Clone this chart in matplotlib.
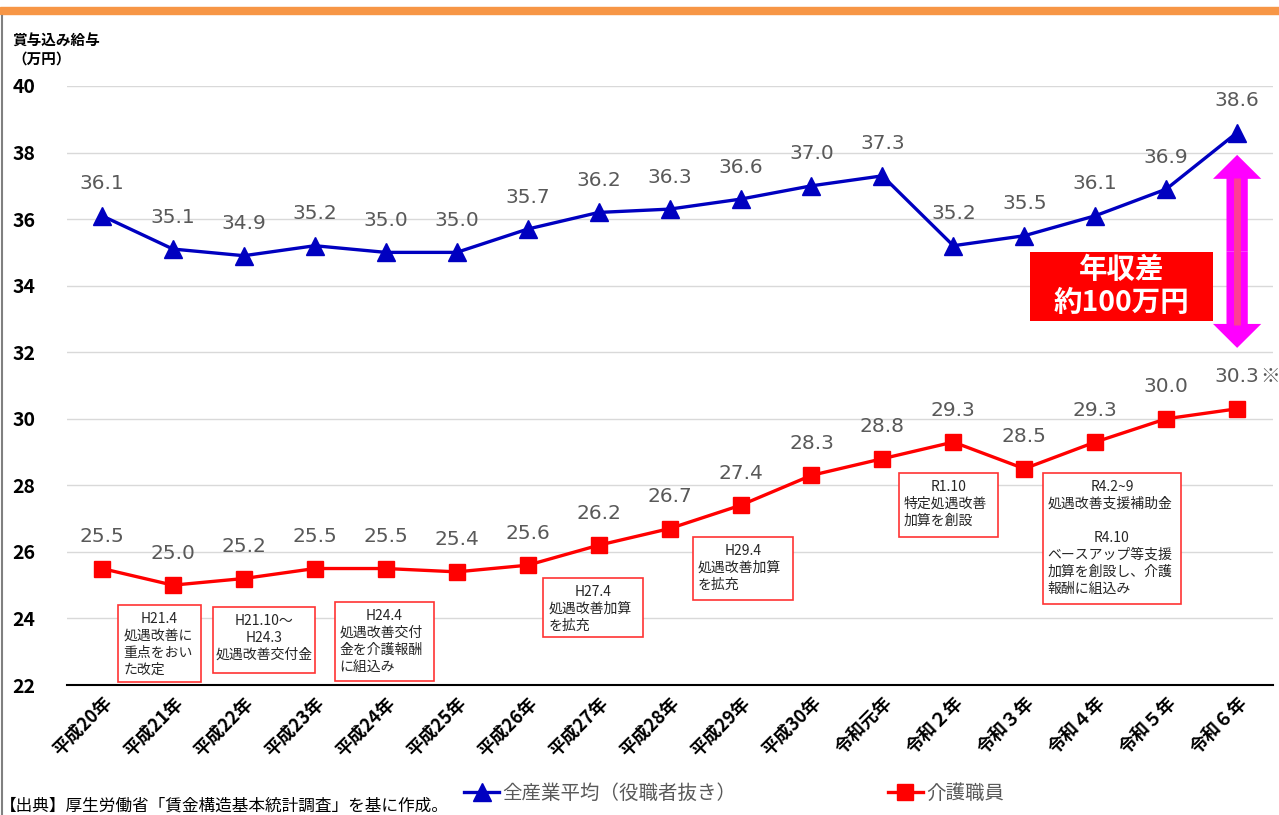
from matplotlib import pyplot as plt
import matplotlib.patches as mpatches
import numpy as np

plt.rcParams['font.family'] = ['Noto Sans CJK JP', 'DejaVu Sans']

## Données (万円)
years = ['平成20年', '平成21年', '平成22年', '平成23年', '平成24年', '平成25年',
         '平成26年', '平成27年', '平成28年', '平成29年', '平成30年', '令和元年',
         '令和２年', '令和３年', '令和４年', '令和５年', '令和６年']
all_industry = [36.1, 35.1, 34.9, 35.2, 35.0, 35.0, 35.7, 36.2, 36.3, 36.6,
                37.0, 37.3, 35.2, 35.5, 36.1, 36.9, 38.6]
care_workers = [25.5, 25.0, 25.2, 25.5, 25.5, 25.4, 25.6, 26.2, 26.7, 27.4,
                28.3, 28.8, 29.3, 28.5, 29.3, 30.0, 30.3]
all_name = '全産業平均（役職者抜き）'
care_name = '介護職員'

# encadrés (x0, x1, y_haut, y_bas) et lignes de texte
notes = [
    ((0.23, 1.39, 24.40, 22.09), ['H21.4', '処遇改善に', '重点をおい', 'た改定']),
    ((1.56, 3.00, 24.34, 22.36), ['H21.10～', 'H24.3', '処遇改善交付金']),
    ((3.28, 4.68, 24.50, 22.12), ['H24.4', '処遇改善交付', '金を介護報酬', 'に組込み']),
    ((6.22, 7.63, 25.22, 23.44), ['H27.4', '処遇改善加算', 'を拡充']),
    ((8.33, 9.74, 26.45, 24.56), ['H29.4', '処遇改善加算', 'を拡充']),
    ((11.23, 12.63, 28.37, 26.45), ['R1.10', '特定処遇改善', '加算を創設']),
    ((13.26, 15.21, 28.37, 24.43), ['R4.2~9', '処遇改善支援補助金', '', 'R4.10',
                                    'ベースアップ等支援', '加算を創設し、介護', '報酬に組込み']),
]

blue = '#0000C0'
red = '#FF0000'
gray = '#595959'

fig = plt.figure(figsize=(12.79, 8.15), dpi=100)
ax = fig.add_axes([0.052, 0.1595, 0.943, 0.735])

x = np.arange(len(years))
ax.plot(x, all_industry, color=blue, lw=2.4, marker='^', markersize=13, label=all_name, zorder=4)
ax.plot(x, care_workers, color=red, lw=2.4, marker='s', markersize=11.5, label=care_name, zorder=4)

for i in range(len(years)):
    ax.annotate('{:.1f}'.format(all_industry[i]), (x[i], all_industry[i]), xytext=(0, 23),
                textcoords='offset points', ha='center', va='center', fontsize=14.5,
                color=gray, family='DejaVu Sans')
    ax.annotate('{:.1f}'.format(care_workers[i]), (x[i], care_workers[i]), xytext=(0, 23),
                textcoords='offset points', ha='center', va='center', fontsize=14.5,
                color=gray, family='DejaVu Sans')
ax.annotate('※', (x[-1], care_workers[-1]), xytext=(24, 23), textcoords='offset points',
            ha='center', va='center', fontsize=14, color=gray)

ax.set_xlim(-0.5, len(years) - 0.5)
ax.set_ylim(22, 40)
ax.set_yticks(np.arange(22, 41, 2))
ax.set_xticks(x)
ax.set_xticklabels(years, rotation=45, ha='right', rotation_mode='anchor',
                   fontsize=13, fontweight='bold')
for lab in ax.get_yticklabels():
    lab.set_fontweight('bold')
    lab.set_fontsize(14)
    lab.set_horizontalalignment('left')
ax.tick_params(axis='y', length=0, pad=39)
ax.tick_params(axis='x', length=0, pad=6)
ax.grid(axis='y', color='#D9D9D9', lw=1)
ax.set_axisbelow(True)
for s in ['top', 'right', 'left']:
    ax.spines[s].set_visible(False)
ax.spines['bottom'].set_color('black')
ax.spines['bottom'].set_linewidth(1.5)

## Flèche double (écart)
mid = 35.03
half = 2.9
for d in (half, -half):
    ax.add_patch(mpatches.FancyArrow(x[-1], mid, 0, d, width=0.3, head_width=0.68,
                                     head_length=0.72, length_includes_head=True,
                                     color='#FF00FF', lw=0, zorder=3))
ax.plot([x[-1], x[-1]], [mid - half + 0.7, mid + half - 0.7], color='#FF3C96', lw=5,
        solid_capstyle='butt', zorder=3)

ax.add_patch(mpatches.Rectangle((13.08, 32.94), 2.58, 2.07, facecolor=red,
                                edgecolor='none', zorder=5))
ax.text(14.37, 33.98, '年収差\n約100万円', ha='center', va='center', color='white',
        fontsize=20.5, fontweight='bold', linespacing=1.2, zorder=6)

## Encadrés
step = 0.51
for (x0, x1, y0, y1), lines in notes:
    ax.add_patch(mpatches.Rectangle((x0, y1), x1 - x0, y0 - y1, facecolor='white',
                                    edgecolor='#FF3333', lw=1.2, zorder=5))
    for j, line in enumerate(lines):
        yy = y0 - 0.42 - j * step
        if line[:1].isascii() or x0 == 1.56:
            ax.text((x0 + x1) / 2, yy, line, ha='center', va='center', fontsize=10,
                    color='#262626', zorder=6)
        else:
            ax.text(x0 + 0.07, yy, line, ha='left', va='center', fontsize=10,
                    color='#262626', zorder=6)

## Décor
fig.patches.append(mpatches.Rectangle((0, 1 - 13.5 / 815), 1, 6.5 / 815,
                                      transform=fig.transFigure, color='#F79646'))
fig.lines.append(plt.Line2D([2 / 1279, 2 / 1279], [0, 1 - 16 / 815],
                            transform=fig.transFigure, color='#808080', lw=1.5))
fig.text(12 / 1279, 1 - 32 / 815, '賞与込み給与\n（万円）', ha='left', va='top',
         fontsize=10.5, fontweight='bold', linespacing=1.2)
fig.text(0.0, 1 - 806 / 815, '【出典】厚生労働省「賃金構造基本統計調査」を基に作成。',
         ha='left', va='center', fontsize=12)

leg = fig.legend(loc='center', bbox_to_anchor=(0.574, 1 - 793 / 815), ncol=2,
                 frameon=False, fontsize=14, handlelength=1.8, handletextpad=0.15,
                 columnspacing=7.8)
for t in leg.get_texts():
    t.set_color(gray)

fig.savefig('out.png', dpi=100)
